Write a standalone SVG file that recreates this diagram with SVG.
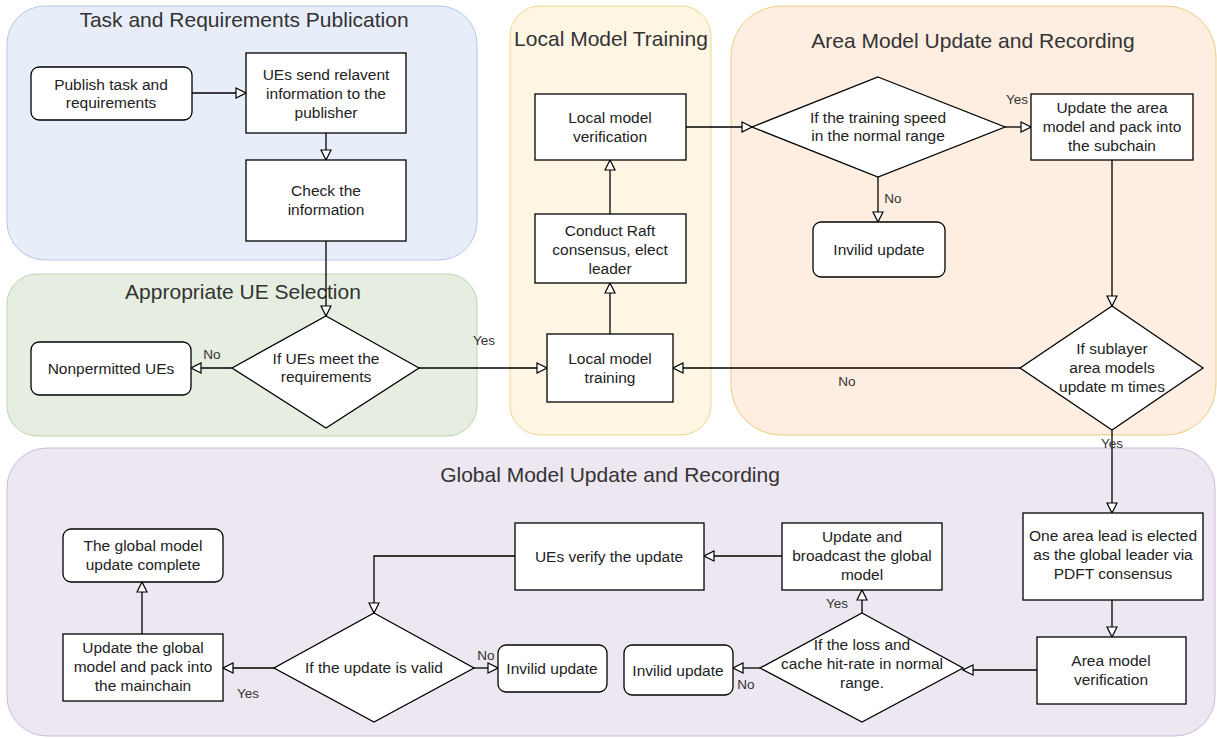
<svg xmlns="http://www.w3.org/2000/svg" width="1217" height="738" viewBox="0 0 1217 738">
<defs>
<marker id="arr" viewBox="0 0 12 12" refX="11" refY="6" markerWidth="12" markerHeight="12" markerUnits="userSpaceOnUse" orient="auto">
<path d="M1,1 L11,6 L1,11 Z" fill="#fff" stroke="#000" stroke-width="1.2"/>
</marker>
<style>
.n{fill:#fff;stroke:#000;stroke-width:1.3}
.t{font-family:"Liberation Sans",Arial,sans-serif;font-size:15.5px;fill:#222;text-anchor:middle}
.ti{font-family:"Liberation Sans",Arial,sans-serif;font-size:21px;fill:#333;text-anchor:middle}
.l{font-family:"Liberation Sans",Arial,sans-serif;font-size:13.5px;fill:#333;text-anchor:middle}
.c{fill:none;stroke:#000;stroke-width:1.3;marker-end:url(#arr)}
</style>
</defs>
<rect width="1217" height="738" fill="#fff"/>
<g id="containers">
<rect x="7" y="6" width="470" height="254" rx="38" fill="#e8eef9" stroke="#b3c8ea"/>
<rect x="7" y="274" width="470" height="162" rx="30" fill="#e5eee0" stroke="#bcd6ad"/>
<rect x="510" y="6" width="201" height="429" rx="30" fill="#fef5e3" stroke="#f0d690"/>
<rect x="731" y="6" width="485" height="429" rx="50" fill="#fdeee1" stroke="#ecce7e"/>
<rect x="7" y="448" width="1208" height="288" rx="40" fill="#ede7f1" stroke="#cdb8dc"/>
<text class="ti" x="244" y="27">Task and Requirements Publication</text>
<text class="ti" x="243" y="299">Appropriate UE Selection</text>
<text class="ti" x="611" y="46">Local Model Training</text>
<text class="ti" x="973" y="48">Area Model Update and Recording</text>
<text class="ti" x="610" y="482">Global Model Update and Recording</text>
</g>
<g id="connectors">
<path class="c" d="M192,93 L246,93"/>
<path class="c" d="M326,133 L326,160"/>
<path class="c" d="M326,241 L326,316"/>
<path class="c" d="M232,368 L191,368"/>
<path class="c" d="M419,368 L547,368"/>
<path class="c" d="M610,334 L610,283"/>
<path class="c" d="M610,214 L610,160"/>
<path class="c" d="M686,127 L752,127"/>
<path class="c" d="M1005,127 L1031,127"/>
<path class="c" d="M878,177 L878,222"/>
<path class="c" d="M1112,160 L1112,306"/>
<path class="c" d="M1020,368 L673,368"/>
<path class="c" d="M1112,430 L1112,513"/>
<path class="c" d="M1112,600 L1112,637"/>
<path class="c" d="M1037,670 L963,670"/>
<path class="c" d="M862,613 L862,590"/>
<path class="c" d="M760,668 L733,668"/>
<path class="c" d="M782,556 L704,556"/>
<path class="c" d="M515,556 L374,556 L374,613"/>
<path class="c" d="M474,668 L498,668"/>
<path class="c" d="M274,668 L223,668"/>
<path class="c" d="M142,634 L142,582"/>
<text class="l" x="212" y="359">No</text>
<text class="l" x="484" y="345">Yes</text>
<text class="l" x="1017" y="104">Yes</text>
<text class="l" x="893" y="203">No</text>
<text class="l" x="847" y="386">No</text>
<text class="l" x="1112" y="448">Yes</text>
<text class="l" x="837" y="608">Yes</text>
<text class="l" x="746" y="689">No</text>
<text class="l" x="486" y="660">No</text>
<text class="l" x="248" y="698">Yes</text>
</g>
<g id="publish"><rect class="n" x="31" y="67" width="161" height="53" rx="8"/><text class="t" x="111" y="90">Publish task and</text><text class="t" x="111" y="108">requirements</text></g>
<g id="send"><rect class="n" x="246" y="53" width="160" height="80"/><text class="t" x="326" y="80">UEs send relavent</text><text class="t" x="326" y="99">information to the</text><text class="t" x="326" y="118">publisher</text></g>
<g id="check"><rect class="n" x="246" y="160" width="160" height="81"/><text class="t" x="326" y="196">Check the</text><text class="t" x="326" y="215">information</text></g>
<g id="meet"><path class="n" d="M326,316 L419,368 L326,428 L232,368 Z"/><text class="t" x="326" y="364">If UEs meet the</text><text class="t" x="326" y="382">requirements</text></g>
<g id="nonpermitted"><rect class="n" x="31" y="342" width="160" height="53" rx="8"/><text class="t" x="111" y="374">Nonpermitted UEs</text></g>
<g id="localtrain"><rect class="n" x="547" y="334" width="126" height="68"/><text class="t" x="610" y="364">Local model</text><text class="t" x="610" y="383">training</text></g>
<g id="raft"><rect class="n" x="535" y="214" width="151" height="69"/><text class="t" x="610" y="236">Conduct Raft</text><text class="t" x="610" y="255">consensus, elect</text><text class="t" x="610" y="274">leader</text></g>
<g id="localverif"><rect class="n" x="535" y="94" width="151" height="66"/><text class="t" x="610" y="123">Local model</text><text class="t" x="610" y="142">verification</text></g>
<g id="speed"><path class="n" d="M878,77 L1005,127 L878,177 L752,127 Z"/><text class="t" x="878" y="123">If the training speed</text><text class="t" x="878" y="141">in the normal range</text></g>
<g id="invalid1"><rect class="n" x="813" y="222" width="132" height="55" rx="8"/><text class="t" x="879" y="255">Invilid update</text></g>
<g id="areaupdate"><rect class="n" x="1031" y="94" width="162" height="66"/><text class="t" x="1112" y="113">Update the area</text><text class="t" x="1112" y="132">model and pack into</text><text class="t" x="1112" y="151">the subchain</text></g>
<g id="sublayer"><path class="n" d="M1112,306 L1203,368 L1112,430 L1020,368 Z"/><text class="t" x="1112" y="354">If sublayer</text><text class="t" x="1112" y="373">area models</text><text class="t" x="1112" y="392">update m times</text></g>
<g id="arealead"><rect class="n" x="1023" y="513" width="180" height="87"/><text class="t" x="1113" y="541">One area lead is elected</text><text class="t" x="1113" y="560">as the global leader via</text><text class="t" x="1113" y="579">PDFT consensus</text></g>
<g id="areaverif"><rect class="n" x="1037" y="637" width="149" height="67"/><text class="t" x="1111" y="666">Area model</text><text class="t" x="1111" y="685">verification</text></g>
<g id="loss"><path class="n" d="M862,613 L963,668 L862,722 L760,668 Z"/><text class="t" x="862" y="650">If the loss and</text><text class="t" x="862" y="669">cache hit-rate in normal</text><text class="t" x="862" y="688">range.</text></g>
<g id="broadcast"><rect class="n" x="782" y="523" width="160" height="67"/><text class="t" x="862" y="542">Update and</text><text class="t" x="862" y="561">broadcast the global</text><text class="t" x="862" y="580">model</text></g>
<g id="invalid2"><rect class="n" x="624" y="645" width="109" height="50" rx="8"/><text class="t" x="678" y="676">Invilid update</text></g>
<g id="verify"><rect class="n" x="515" y="523" width="189" height="67"/><text class="t" x="609" y="562">UEs verify the update</text></g>
<g id="valid"><path class="n" d="M374,613 L474,668 L374,722 L274,668 Z"/><text class="t" x="374" y="673">If  the update is valid</text></g>
<g id="invalid3"><rect class="n" x="498" y="645" width="109" height="47" rx="8"/><text class="t" x="552" y="674">Invilid update</text></g>
<g id="mainchain"><rect class="n" x="63" y="634" width="160" height="67"/><text class="t" x="143" y="653">Update the global</text><text class="t" x="143" y="672">model and pack into</text><text class="t" x="143" y="691">the mainchain</text></g>
<g id="complete"><rect class="n" x="63" y="529" width="160" height="53" rx="8"/><text class="t" x="143" y="551">The global model</text><text class="t" x="143" y="570">update complete</text></g>
</svg>
